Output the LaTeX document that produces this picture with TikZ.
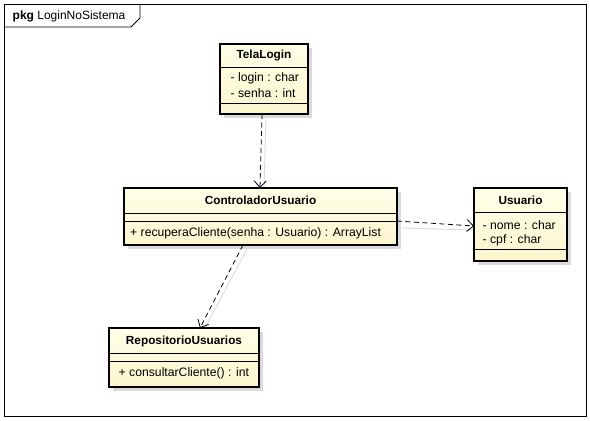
\documentclass[tikz,border=0pt]{standalone}
\usepackage{fontspec}
\setmainfont{Liberation Sans}
\usetikzlibrary{arrows.meta}
\definecolor{classtop}{RGB}{255,255,232}
\definecolor{classbot}{RGB}{252,246,206}
\definecolor{shadowgray}{RGB}{218,218,218}
\begin{document}
\begin{tikzpicture}[x=1pt,y=-1pt,
  font=\fontsize{12.2}{14}\selectfont,
  classbox/.style={draw=black,line width=1.8pt,top color=classtop,bottom color=classbot,
    inner sep=0pt,outer sep=0pt},
  sep/.style={line width=0.9pt},
  title/.style={font=\fontsize{11.8}{14}\selectfont\bfseries,inner sep=0pt},
  member/.style={anchor=west,inner sep=0pt},
  dep/.style={line width=0.8pt,dash pattern=on 5pt off 3.5pt,
    -{Straight Barb[length=6.5pt,width=12pt,line width=0.8pt]}},
  depshadow/.style={line width=0.9pt,draw=shadowgray}]
\useasboundingbox (0,0) rectangle (590,421);
% package frame with name tab
\draw[line width=0.9pt] (4,4) rectangle (586,416);
\draw[line width=0.9pt] (4,27) -- (131,27) -- (140,18) -- (140,4);
\node[anchor=west,inner sep=0pt,font=\fontsize{12}{14}\selectfont] (pkgname) at (12.5,16) {\textbf{pkg} LoginNoSistema};

% class shadows
\fill[shadowgray] (224,48) rectangle (312,118);
\fill[shadowgray] (128,192) rectangle (401,249);
\fill[shadowgray] (478,192) rectangle (571,265);
\fill[shadowgray] (113,332) rectangle (263,391);

% connector shadows
\coordinate (s1a) at (266,118);
\coordinate (s1b) at (264,188);
\coordinate (s2a) at (401,228);
\coordinate (s2b) at (474,230);
\coordinate (s3a) at (247,249);
\coordinate (s3b) at (205,328);
\draw[depshadow] (s1a) -- (s1b);
\draw[depshadow] (s2a) -- (s2b);
\draw[depshadow] (s3a) -- (s3b);

% TelaLogin
\node[classbox,minimum width=88pt,minimum height=70pt] (tela) at (264,79) {};
\node[title] (telaT) at (264,55.5) {TelaLogin};
\draw[sep] (220,67) -- (308,67);
\draw[sep] (220,103) -- (308,103);
\node[member] (telaA1) at (230.5,78) {- login : char};
\node[member] (telaA2) at (230.5,93) {- senha : int};

% ControladorUsuario
\node[classbox,minimum width=273pt,minimum height=57pt] (ctrl) at (260.5,216.5) {};
\node[title] (ctrlT) at (260.5,200.5) {ControladorUsuario};
\draw[sep] (124,213) -- (397,213);
\draw[sep] (124,221) -- (397,221);
\node[member] (ctrlO1) at (130,233) {+ recuperaCliente(senha : Usuario) : ArrayList};

% Usuario
\node[classbox,minimum width=93pt,minimum height=73pt] (usu) at (520.5,224.5) {};
\node[title] (usuT) at (520.5,200) {Usuario};
\draw[sep] (474,212) -- (567,212);
\draw[sep] (474,249) -- (567,249);
\node[member] (usuA1) at (482.5,225) {- nome : char};
\node[member] (usuA2) at (482.5,240) {- cpf : char};

% RepositorioUsuarios
\node[classbox,minimum width=150pt,minimum height=59pt] (repo) at (184,357.5) {};
\node[title] (repoT) at (184,341) {RepositorioUsuarios};
\draw[sep] (109,353) -- (259,353);
\draw[sep] (109,361) -- (259,361);
\node[member] (repoO1) at (118.5,373) {+ consultarCliente() : int};

% dependencies
\coordinate (d1) at (262,114);
\coordinate (d2) at (260,188);
\coordinate (d3) at (397,221);
\coordinate (d4) at (474,226);
\coordinate (d5) at (243,245);
\coordinate (d6) at (200,328);
\draw[dep] (tela.south -| d1) -- (ctrl.north -| d2);
\draw[dep] (ctrl.east |- d3) -- (usu.west |- d4);
\draw[dep] (ctrl.south -| d5) -- (repo.north -| d6);
\end{tikzpicture}
\end{document}
